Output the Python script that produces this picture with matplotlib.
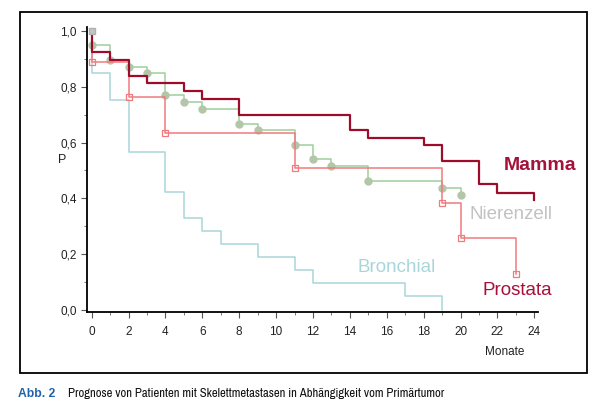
import matplotlib
matplotlib.use("Agg")
import matplotlib.pyplot as plt
from matplotlib.patches import Rectangle
from matplotlib.ticker import MultipleLocator, FuncFormatter
from matplotlib import font_manager

# Kaplan-Meier Kurven (Monate / Ueberlebenswahrscheinlichkeit)
mamma_t = [0, 0, 1, 2, 3, 5, 6, 8, 14, 15, 18, 19, 21, 22, 24]
mamma_p = [1.0, 0.925, 0.896, 0.84, 0.815, 0.786, 0.757, 0.70, 0.645, 0.618, 0.59, 0.534, 0.452, 0.42, 0.395]

prostata_t = [0, 0, 2, 4, 11, 19, 20, 23]
prostata_p = [1.0, 0.89, 0.765, 0.635, 0.51, 0.382, 0.257, 0.129]

niere_t = [0, 0, 1, 2, 3, 4, 5, 6, 8, 9, 11, 12, 13, 15, 19, 20]
niere_p = [1.0, 0.95, 0.897, 0.872, 0.848, 0.772, 0.745, 0.719, 0.668, 0.644, 0.59, 0.54, 0.515, 0.463, 0.438, 0.412]

bronch_t = [0, 0, 1, 2, 4, 5, 6, 7, 9, 11, 12, 17, 19]
bronch_p = [1.0, 0.848, 0.753, 0.565, 0.424, 0.331, 0.284, 0.237, 0.189, 0.142, 0.098, 0.05, 0.0]

x_ticks = list(range(0, 25, 2))
y_ticks = [0.0, 0.2, 0.4, 0.6, 0.8, 1.0]

noms = ["Mamma", "Nierenzell", "Bronchial", "Prostata"]
titre_abb = "Abb. 2"
titre = "Prognose von Patienten mit Skelettmetastasen in Abhängigkeit vom Primärtumor"

# couleurs
c_mamma = "#9e0c2c"
c_prost = "#f07a7e"
c_niere = "#9ccf9c"
c_niere_pt = "#b3c7a8"
c_bronch = "#a9d6da"

# chercher une police etroite pour la legende
police = "Liberation Sans"
police_etroite = None
etirement = 'normal'
for f in font_manager.fontManager.ttflist:
    if 'Narrow' in f.name or 'Condensed' in f.name:
        police_etroite = f.name
        break
if police_etroite is None:
    for f in font_manager.fontManager.ttflist:
        if str(f.stretch) in ('condensed', 'semi-condensed', '75', '87.5') or f.stretch in (75, 87.5):
            police_etroite = f.name
            etirement = 'condensed'
            break
if police_etroite is None:
    police_etroite = "Roboto"

plt.rcParams['font.family'] = police

fig = plt.figure(figsize=(5.94, 4.09), dpi=100)
ax = fig.add_axes([86.7 / 594, 1 - 311.7 / 409, (538 - 86.7) / 594, (311.7 - 27) / 409])

# cadre autour du graphique
fig.patches.append(Rectangle((19.5 / 594, 1 - 372.5 / 409), (587 - 19.5) / 594, (372.5 - 12) / 409,
                             transform=fig.transFigure, fill=False, edgecolor="black", linewidth=1.3))

ax.step(bronch_t, bronch_p, where='post', color=c_bronch, lw=1.1)
ax.step(niere_t, niere_p, where='post', color=c_niere, lw=1.1)
ax.plot(niere_t[1:], niere_p[1:], 'o', ms=5, color=c_niere_pt, mec=c_niere_pt)
ax.step(prostata_t, prostata_p, where='post', color=c_prost, lw=1.1)
ax.plot(prostata_t[1:], prostata_p[1:], 's', ms=5, mfc='none', mec=c_prost, mew=0.9)
ax.step(mamma_t, mamma_p, where='post', color=c_mamma, lw=1.6)
ax.plot([0], [1.0], 's', ms=5, color="#c4c4c4", mec="#b0b0b0")

ax.set_xlim(-0.27, 24.2)
ax.set_ylim(-0.006, 1.014)
for s in ['top', 'right']:
    ax.spines[s].set_visible(False)
for s in ['left', 'bottom']:
    ax.spines[s].set_linewidth(1.3)

ax.xaxis.set_minor_locator(MultipleLocator(1))
ax.yaxis.set_minor_locator(MultipleLocator(0.1))
ax.set_xticks(x_ticks)
ax.set_yticks(y_ticks)
ax.yaxis.set_major_formatter(FuncFormatter(lambda v, p: f"{v:.1f}".replace('.', ',')))
ax.tick_params(axis='both', which='major', length=4, width=0.8, color="#555555",
               labelsize=8.5, labelcolor="#222222", pad=3)
ax.tick_params(axis='both', which='minor', length=2, width=0.7, color="#777777")
ax.tick_params(axis='x', which='major', pad=6)

# textes
ax.text(22.32, 0.502, noms[0], color="#a3123a", fontsize=14, fontweight='bold')
ax.text(20.47, 0.326, noms[1], color="#c2c2c2", fontsize=13.5)
ax.text(14.4, 0.136, noms[2], color=c_bronch, fontsize=13.5)
ax.text(21.18, 0.054, noms[3], color="#a8103a", fontsize=13.5)

fig.text(62 / 594, 1 - 160 / 409, "P", fontsize=9, ha='center', va='center', color="#222222")
fig.text(505 / 594, 1 - 352 / 409, "Monate", fontsize=8.5, ha='center', va='center', color="#222222")

t1 = fig.text(18 / 594, 1 - 397 / 409, titre_abb, fontsize=9, fontweight='bold', color="#1f63a6",
              family=police, va='baseline')
t2 = fig.text(68 / 594, 1 - 397 / 409, titre, fontsize=10, color="#111111",
              family=police_etroite, stretch=etirement, va='baseline')

# ajuster la taille de la legende pour tenir dans la largeur de la reference (~379 px)
fig.canvas.draw()
larg = t2.get_window_extent().width
if larg > 379:
    t2.set_fontsize(10 * 379 / larg)
larg1 = t1.get_window_extent().width
if larg1 > 37:
    t1.set_fontsize(9 * 37 / larg1)

fig.savefig("out.png", dpi=100)
